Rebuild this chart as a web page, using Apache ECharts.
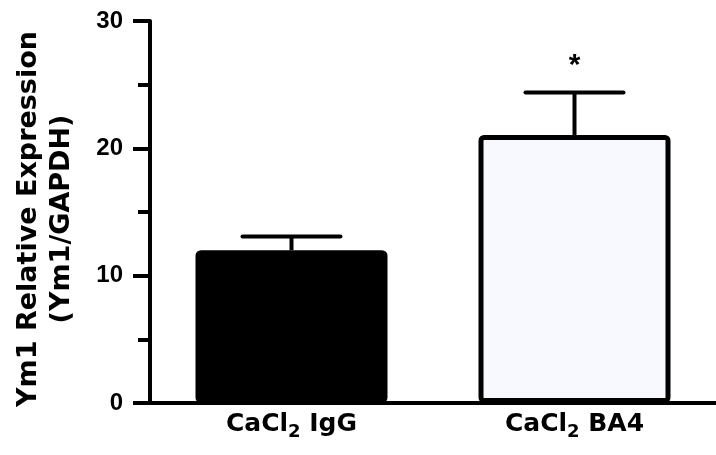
<!DOCTYPE html>
<html>
<head>
<meta charset="utf-8">
<script src="https://cdn.jsdelivr.net/npm/echarts@6/dist/echarts.min.js"></script>
<style>
html,body{margin:0;padding:0;background:#fff;}
#chart{width:716px;height:455px;}
</style>
</head>
<body>
<div id="chart"></div>
<script>
var categories = ['CaCl2 IgG', 'CaCl2 BA4'];
var means = [12.0, 21.05];
var errors = [1.07, 3.33];
var annotations = ['', '*'];
var barColors = ['#000000', '#f8f8ff'];
var yTicks = [0, 10, 20, 30];
var yTitle = ['Ym1 Relative Expression', '(Ym1/GAPDH)'];

var FONT = '"Liberation Sans", Arial, sans-serif';
var WIDE = '"DejaVu Sans", sans-serif';
var chart = echarts.init(document.getElementById('chart'));

function richLabel(s) {
  var m = s.match(/^(.*?)(\d)(.*)$/);
  return '{a|' + m[1] + '}{s|' + m[2] + '}{a|' + m[3] + '}';
}

var errData = categories.map(function (c, i) { return [i, means[i], means[i] + errors[i], annotations[i]]; });

chart.setOption({
  animation: false,
  backgroundColor: '#ffffff',
  grid: { left: 150, right: -6, top: 21, bottom: 52 },
  xAxis: {
    type: 'category',
    data: categories,
    boundaryGap: true,
    axisLine: { lineStyle: { color: '#000', width: 4 } },
    axisTick: { show: false },
    axisLabel: {
      margin: 9,
      formatter: function (v) { return richLabel(v); },
      rich: {
        a: { fontFamily: WIDE, fontWeight: 'bold', fontSize: 25, color: '#000', verticalAlign: 'top' },
        s: { fontFamily: WIDE, fontWeight: 'bold', fontSize: 18, color: '#000', verticalAlign: 'top', padding: [11, 0, 0, 0] }
      }
    }
  },
  yAxis: {
    type: 'value',
    min: yTicks[0],
    max: yTicks[yTicks.length - 1],
    interval: yTicks[1] - yTicks[0],
    splitLine: { show: false },
    axisLine: { show: true, lineStyle: { color: '#000', width: 4 } },
    axisTick: { show: true, length: 17, lineStyle: { color: '#000', width: 4 } },
    minorTick: { show: true, splitNumber: 2, length: 12, lineStyle: { color: '#000', width: 4 } },
    axisLabel: { margin: 27, fontFamily: FONT, fontWeight: 'bold', fontSize: 24, color: '#000' },
    name: yTitle.join('\n'),
    nameLocation: 'middle',
    nameGap: 72,
    nameTextStyle: { fontFamily: WIDE, fontWeight: 'bold', fontSize: 27, color: '#000', lineHeight: 33, padding: [0, 14, 0, 0] }
  },
  series: [
    {
      type: 'bar',
      barWidth: 192,
      data: means.map(function (v, i) {
        return { value: v, itemStyle: { color: barColors[i], borderColor: '#000', borderWidth: 5, borderRadius: 3 } };
      }),
      z: 2
    },
    {
      type: 'custom',
      data: errData,
      z: 3,
      renderItem: function (params, api) {
        var x = api.value(0);
        var base = api.coord([x, api.value(1)]);
        var top = api.coord([x, api.value(2)]);
        var capHalf = 49;
        var children = [
          { type: 'line', shape: { x1: base[0], y1: base[1], x2: top[0], y2: top[1] }, style: { stroke: '#000', lineWidth: 4 } },
          { type: 'line', shape: { x1: top[0] - capHalf, y1: top[1], x2: top[0] + capHalf, y2: top[1] }, style: { stroke: '#000', lineWidth: 4, lineCap: 'round' } }
        ];
        var ann = api.value(3);
        if (ann) {
          children.push({ type: 'text', style: { text: ann, x: top[0], y: top[1] - 27, align: 'center', verticalAlign: 'middle', fontFamily: FONT, fontWeight: 'bold', fontSize: 30, fill: '#000' } });
        }
        return { type: 'group', children: children };
      }
    }
  ]
});
</script>
</body>
</html>
